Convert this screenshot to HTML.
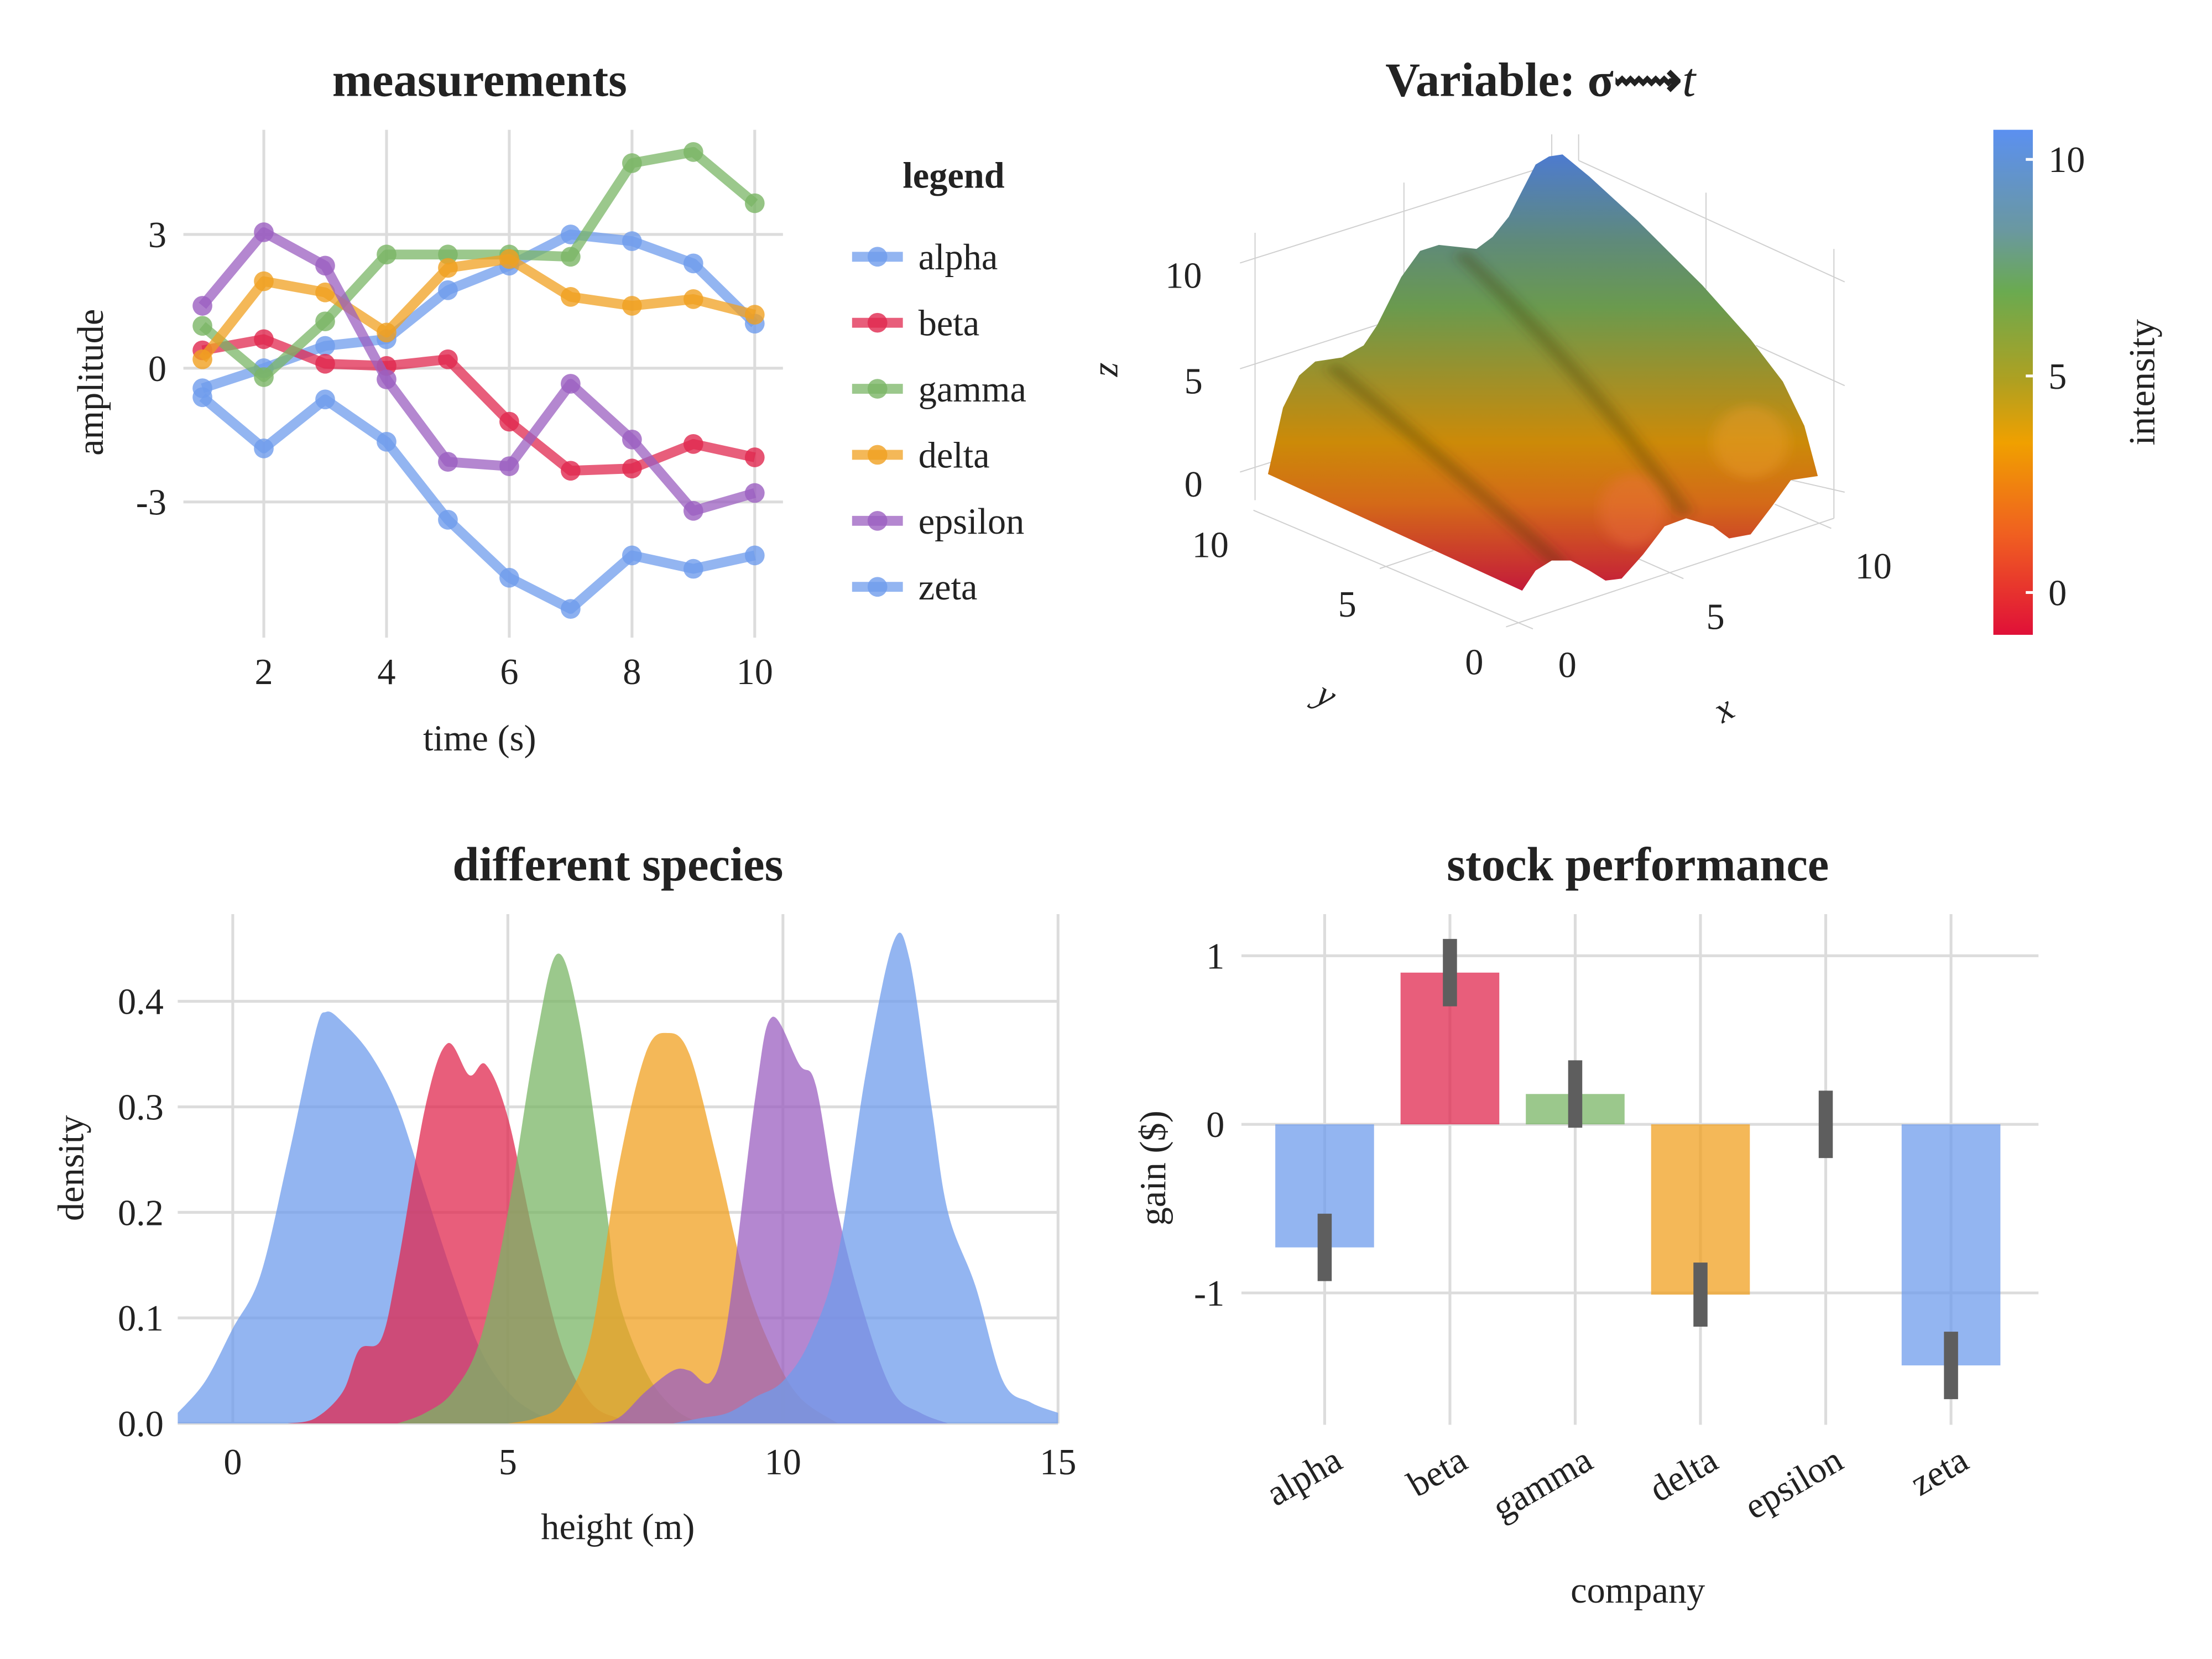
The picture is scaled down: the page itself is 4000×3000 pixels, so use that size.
<!DOCTYPE html>
<html><head><meta charset="utf-8">
<style>
html,body{margin:0;padding:0;background:#fff;}
svg{display:block;}
text{font-family:"Liberation Serif",serif;fill:#222;}
.tick{font-size:26px;}
.title{font-size:34px;font-weight:bold;}
.lab{font-size:26px;}
.grid{stroke:#dcdcdc;stroke-width:2;fill:none;}
.g3{stroke:#d0d0d0;stroke-width:2;fill:none;}
</style></head>
<body>
<svg id="root" width="4000" height="3000" viewBox="0 0 1568 1176" xmlns="http://www.w3.org/2000/svg">
<defs>
<linearGradient id="surfGrad" gradientUnits="userSpaceOnUse" x1="0" y1="115" x2="0" y2="1200">
<stop offset="0" stop-color="#4d7bd0"/>
<stop offset="0.2" stop-color="#5f8a7a"/>
<stop offset="0.35" stop-color="#6a9a4e"/>
<stop offset="0.52" stop-color="#a09028"/>
<stop offset="0.66" stop-color="#cc8a08"/>
<stop offset="0.8" stop-color="#d46a18"/>
<stop offset="1" stop-color="#c41a3a"/>
</linearGradient>
<linearGradient id="cbGrad" x1="0" y1="0" x2="0" y2="1">
<stop offset="0" stop-color="#5b90f0"/>
<stop offset="0.2" stop-color="#6a98a0"/>
<stop offset="0.32" stop-color="#6aaa50"/>
<stop offset="0.5" stop-color="#b0a020"/>
<stop offset="0.62" stop-color="#f0a000"/>
<stop offset="0.8" stop-color="#f06020"/>
<stop offset="1" stop-color="#e01038"/>
</linearGradient>
<filter id="blur"><feGaussianBlur stdDeviation="12"/></filter>
<clipPath id="surfClip"><path id="surfPathClip" d=""/></clipPath>
</defs>

<g id="p1"></g>
<g id="p2"></g>
<g id="p3"></g>
<g id="p4"></g>
</svg>

<script>
// ===== Panel 1 data =====
const lineX = [1,2,3,4,5,6,7,8,9,10];
const seriesNames = ["alpha","beta","gamma","delta","epsilon","zeta"];
const alphaVals = [-0.45,0.0,0.5,0.65,1.75,2.3,3.0,2.85,2.35,1.0];
const betaVals = [0.4,0.65,0.1,0.05,0.2,-1.2,-2.3,-2.25,-1.7,-2.0];
const gammaVals = [0.95,-0.2,1.05,2.55,2.55,2.55,2.5,4.6,4.85,3.7];
const deltaVals = [0.2,1.95,1.7,0.8,2.25,2.45,1.6,1.4,1.55,1.2];
const epsilonVals = [1.4,3.05,2.3,-0.25,-2.1,-2.2,-0.35,-1.6,-3.2,-2.8];
const zetaVals = [-0.65,-1.8,-0.7,-1.65,-3.4,-4.7,-5.4,-4.2,-4.5,-4.2];
const p1XTicks = [2,4,6,8,10];
const p1YTicks = [3,0,-3];

// ===== Panel 3 data =====
const densAlphaX = [-1,-0.5,0,0.5,1,1.5,1.7,2,2.5,3,3.5,4,4.5,5,5.5,6];
const densAlphaY = [0.01,0.04,0.09,0.14,0.25,0.37,0.39,0.38,0.35,0.3,0.22,0.14,0.07,0.03,0.01,0];
const densBetaX = [1,1.5,2,2.3,2.7,3,3.5,3.9,4.3,4.6,5,5.5,6,6.5,7,7.5];
const densBetaY = [0,0.005,0.03,0.07,0.08,0.15,0.3,0.36,0.33,0.34,0.29,0.17,0.07,0.02,0.005,0];
const densGammaX = [3,3.5,4,4.5,5,5.5,5.9,6.3,6.8,7,7.5,8,8.5];
const densGammaY = [0,0.01,0.03,0.08,0.2,0.36,0.445,0.38,0.2,0.12,0.05,0.015,0];
const densDeltaX = [5,5.5,6,6.5,7,7.5,7.9,8.3,8.8,9.3,9.8,10.3,11];
const densDeltaY = [0,0.005,0.02,0.08,0.24,0.35,0.37,0.35,0.25,0.14,0.07,0.025,0];
const densEpsX = [6.5,7,7.5,8,8.3,8.7,9,9.5,9.8,10.3,10.6,11,11.5,12,12.5,13];
const densEpsY = [0,0.005,0.03,0.05,0.05,0.04,0.1,0.31,0.385,0.34,0.32,0.2,0.1,0.03,0.01,0];
const densZetaX = [8,8.5,9,9.5,10,10.5,11,11.5,12,12.3,12.7,13,13.5,14,14.5,15];
const densZetaY = [0,0.005,0.01,0.025,0.04,0.08,0.16,0.33,0.455,0.44,0.3,0.2,0.13,0.04,0.02,0.01];
const p3XTicks = [0,5,10,15];
const p3YTicks = [0.0,0.1,0.2,0.3,0.4];
const p3YLabels = ["0.0","0.1","0.2","0.3","0.4"];

// ===== Panel 4 data =====
const companies = ["alpha","beta","gamma","delta","epsilon","zeta"];
const gains = [-0.73,0.9,0.18,-1.01,0,-1.43];
const gainErr = [0.2,0.2,0.2,0.19,0.2,0.2];
const gainErrCenter = [-0.73,0.9,0.18,-1.01,0,-1.43];
const p4YTicks = [1,0,-1];

// ===== Colorbar data =====
const cbTicks = [10,5,0];

const colors = ["#6f9cec","#e0284f","#7ab565","#f0a020","#9b5fc0","#6f9cec"];
const NS = "http://www.w3.org/2000/svg";
function mk(parent, tag, attrs, text){
  const e = document.createElementNS(NS, tag);
  for (const k in attrs) e.setAttribute(k, attrs[k]);
  if (text !== undefined) e.textContent = text;
  parent.appendChild(e);
  return e;
}

// ---------- Panel 1 ----------
(function(){
  const g = document.getElementById('p1');
  const xs = v => 143.5 + (v-1)*43.5;
  const ys = v => 261 - v*31.6;
  for (const t of p1XTicks){
    const l = mk(g,'line',{x1:xs(t),x2:xs(t),y1:92,y2:452,class:'grid'});
    
    
    const tx = mk(g,'text',{x:xs(t),y:485,class:'tick','text-anchor':'middle'},String(t));
    
    
  }
  for (const t of p1YTicks){
    const l = mk(g,'line',{x1:130,x2:555,y1:ys(t),y2:ys(t),class:'grid'});
    
    
    const tx = mk(g,'text',{x:118,y:ys(t)+9,class:'tick','text-anchor':'end'},String(t));
    
    
  }
  const all = [alphaVals,betaVals,gammaVals,deltaVals,epsilonVals,zetaVals];
  all.forEach((vals,i)=>{
    const pts = vals.map((v,j)=>xs(lineX[j])+','+ys(v)).join(' ');
    const pl = mk(g,'polyline',{points:pts,fill:'none',stroke:colors[i],'stroke-width':7,'stroke-opacity':0.75,'stroke-linejoin':'round'});
    
    
    vals.forEach((v,j)=>{
      const c = mk(g,'circle',{cx:xs(lineX[j]),cy:ys(v),r:7,fill:colors[i],'fill-opacity':0.8});
      
      
    });
  });
  const t = mk(g,'text',{x:340,y:68,class:'title','text-anchor':'middle'},'measurements');
  
  
  const xl = mk(g,'text',{x:340,y:532,class:'lab','text-anchor':'middle'},'time (s)');
  
  
  const yl = mk(g,'text',{x:0,y:0,class:'lab','text-anchor':'middle',transform:'translate(73,271) rotate(-90)'},'amplitude');
  
  
  const lt = mk(g,'text',{x:676,y:133,class:'lab','font-weight':'bold','text-anchor':'middle'},'legend');
  
  
  seriesNames.forEach((n,i)=>{
    const y = 182 + i*46.8;
    const ll = mk(g,'line',{x1:604,x2:640,y1:y,y2:y,stroke:colors[i],'stroke-width':7,'stroke-opacity':0.75});
    
    
    const lc = mk(g,'circle',{cx:622,cy:y,r:7,fill:colors[i],'fill-opacity':0.8});
    
    
    const lx = mk(g,'text',{x:651,y:y+9,class:'lab'},n);
    
    
  });
})();

// ---------- Panel 3 ----------
(function(){
  const g = document.getElementById('p3');
  const xs = v => 165 + v*39;
  const ys = v => 1009 - v*748;
  for (const t of p3XTicks){
    const l = mk(g,'line',{x1:xs(t),x2:xs(t),y1:648,y2:1009,class:'grid'});
    
    
    const tx = mk(g,'text',{x:xs(t),y:1045,class:'tick','text-anchor':'middle'},String(t));
    
    
  }
  p3YTicks.forEach((t,i)=>{
    const l = mk(g,'line',{x1:126,x2:750,y1:ys(t),y2:ys(t),class:'grid'});
    
    
    const tx = mk(g,'text',{x:116,y:ys(t)+9,class:'tick','text-anchor':'end'},p3YLabels[i]);
    
    
  });
  const sets = [[densAlphaX,densAlphaY],[densBetaX,densBetaY],[densGammaX,densGammaY],[densDeltaX,densDeltaY],[densEpsX,densEpsY],[densZetaX,densZetaY]];
  sets.forEach((s,i)=>{
    const [X,Y] = s;
    const pts = X.map((x,j)=>[xs(x),ys(Y[j])]);
    let d = 'M'+xs(X[0])+','+ys(0)+' L'+pts[0][0]+','+pts[0][1];
    for (let j=0;j<pts.length-1;j++){
      const p0=pts[Math.max(0,j-1)],p1=pts[j],p2=pts[j+1],p3=pts[Math.min(pts.length-1,j+2)];
      const c1=[p1[0]+(p2[0]-p0[0])/6,p1[1]+(p2[1]-p0[1])/6];
      const c2=[p2[0]-(p3[0]-p1[0])/6,p2[1]-(p3[1]-p1[1])/6];
      d+=' C'+c1[0]+','+Math.min(c1[1],ys(0))+' '+c2[0]+','+Math.min(c2[1],ys(0))+' '+p2[0]+','+p2[1];
    }
    d+=' L'+xs(X[X.length-1])+','+ys(0)+' Z';
    const p = mk(g,'path',{d:d,fill:colors[i],'fill-opacity':0.75});
    
    
  });
  const t = mk(g,'text',{x:438,y:624,class:'title','text-anchor':'middle'},'different species');
  
  
  const xl = mk(g,'text',{x:438,y:1091,class:'lab','text-anchor':'middle'},'height (m)');
  
  
  const yl = mk(g,'text',{x:0,y:0,class:'lab','text-anchor':'middle',transform:'translate(59,828) rotate(-90)'},'density');
  
  
})();

// ---------- Panel 4 ----------
(function(){
  const g = document.getElementById('p4');
  const xs = i => 939 + i*88.8;
  const ys = v => 797 - v*119.5;
  companies.forEach((c,i)=>{
    const l = mk(g,'line',{x1:xs(i),x2:xs(i),y1:648,y2:1010,class:'grid'});
    
    
  });
  for (const t of p4YTicks){
    const l = mk(g,'line',{x1:880,x2:1445,y1:ys(t),y2:ys(t),class:'grid'});
    
    
    const tx = mk(g,'text',{x:868,y:ys(t)+9,class:'tick','text-anchor':'end'},String(t));
    
    
  }
  gains.forEach((v,i)=>{
    const y0 = Math.min(ys(0),ys(v)), h = Math.abs(ys(v)-ys(0));
    const b = mk(g,'rect',{x:xs(i)-35,y:y0,width:70,height:h,fill:colors[i],'fill-opacity':0.75});
    
    
  });
  gainErrCenter.forEach((v,i)=>{
    const e = mk(g,'line',{x1:xs(i),x2:xs(i),y1:ys(v-gainErr[i]),y2:ys(v+gainErr[i]),stroke:'#5e5e5e','stroke-width':10});
    
    
  });
  companies.forEach((c,i)=>{
    const tx = mk(g,'text',{x:0,y:0,class:'tick','text-anchor':'end',transform:'translate('+(xs(i)+14)+',1040) rotate(-30)'},c);
    
    
  });
  const t = mk(g,'text',{x:1161,y:624,class:'title','text-anchor':'middle'},'stock performance');
  
  
  const xl = mk(g,'text',{x:1161,y:1136,class:'lab','text-anchor':'middle'},'company');
  
  
  const yl = mk(g,'text',{x:0,y:0,class:'lab','text-anchor':'middle',transform:'translate(826,828) rotate(-90)'},'gain ($)');
  
  
})();

// ---------- Panel 2 (3D surface, approximated) ----------
(function(){
  const g = document.getElementById('p2');
  const t = mk(g,'text',{x:1092,y:68,class:'title','text-anchor':'middle'});
  
  
  t.innerHTML = 'Variable: σ⟿<tspan font-style="italic" font-weight="normal">t</tspan>';
  const w = mk(g,'g',{transform:'translate(768.5,76.7) scale(0.381,0.285)'});
  
  
  const lines = [[318,310,318,975],[290,385,870,140],[290,648,590,520],[290,905,420,850],[595,185,595,420],[870,65,870,140],[920,65,920,130],[920,130,1415,432],[1157,210,1157,450],[1250,590,1415,690],[1395,350,1395,1020],[1300,920,1415,955],[315,1000,835,1295],[785,1290,1395,1020],[550,1145,650,1100],[1030,1120,1115,1170],[1285,985,1390,1045]];
  lines.forEach(L=>{
    const l = mk(w,'line',{x1:L[0],y1:L[1],x2:L[2],y2:L[3],class:'g3','vector-effect':'non-scaling-stroke'});
    
    
  });
  const outline = [[342,910],[370,745],[400,665],[430,630],[480,620],[520,590],[545,540],[590,420],[625,355],[660,340],[730,350],[760,320],[790,270],[840,140],[865,120],[890,115],[940,170],[1030,280],[1150,440],[1240,575],[1300,680],[1340,790],[1365,915],[1315,925],[1280,990],[1240,1060],[1200,1070],[1170,1040],[1120,1020],[1080,1040],[1040,1110],[1000,1170],[970,1175],[940,1150],[905,1125],[870,1125],[840,1150],[815,1200]];
  const d = 'M'+outline.map(p=>p.join(',')).join(' L')+' Z';
  document.getElementById('surfPathClip').setAttribute('d',d);
  const s = mk(w,'path',{d:d,fill:'url(#surfGrad)'});
  
  
  const sg = mk(w,'g',{'clip-path':'url(#surfClip)'});
  mk(sg,'path',{d:'M460,640 C600,800 760,980 890,1140',stroke:'#3a3008','stroke-width':26,'stroke-opacity':0.35,fill:'none',filter:'url(#blur)'});
  mk(sg,'path',{d:'M700,360 C850,550 1000,780 1120,1010',stroke:'#3a3008','stroke-width':26,'stroke-opacity':0.35,fill:'none',filter:'url(#blur)'});
  mk(sg,'ellipse',{cx:1240,cy:830,rx:70,ry:90,fill:'#f0a030','fill-opacity':0.4,filter:'url(#blur)'});
  mk(sg,'ellipse',{cx:1020,cy:1000,rx:60,ry:90,fill:'#f07040','fill-opacity':0.4,filter:'url(#blur)'});
  const labs = [['10',839,204],['5',846,279],['0',846,352],['10',858,395],['5',955,437],['0',1045,478],['0',1111,480],['5',1216,446],['10',1328,410]];
  labs.forEach(L=>{
    const tx = mk(g,'text',{x:L[1],y:L[2],class:'tick','text-anchor':'middle'},L[0]);
    
    
  });
  const zl = mk(g,'text',{x:0,y:0,class:'lab','font-style':'italic','text-anchor':'middle',transform:'translate(792,262) rotate(-90)'},'z');
  
  
  const yl = mk(g,'text',{x:0,y:0,class:'lab','font-style':'italic','text-anchor':'middle',transform:'translate(936,500) rotate(30)'},'y');
  
  
  const xl = mk(g,'text',{x:0,y:0,class:'lab','font-style':'italic','text-anchor':'middle',transform:'translate(1226,510) rotate(-30)'},'x');
  
  

  const cb = mk(g,'rect',{x:1413,y:92,width:28,height:358,fill:'url(#cbGrad)'});
  
  
  const cy = v => 420 - v*30.7;
  cbTicks.forEach(v=>{
    const tk = mk(g,'line',{x1:1436,x2:1441,y1:cy(v),y2:cy(v),stroke:'#fff','stroke-width':2});
    
    
    const tx = mk(g,'text',{x:1452,y:cy(v)+9,class:'tick'},String(v));
    
    
  });
  const il = mk(g,'text',{x:0,y:0,class:'lab','text-anchor':'middle',transform:'translate(1527,271) rotate(-90)'},'intensity');
  
  
})();
</script>
</body></html>
